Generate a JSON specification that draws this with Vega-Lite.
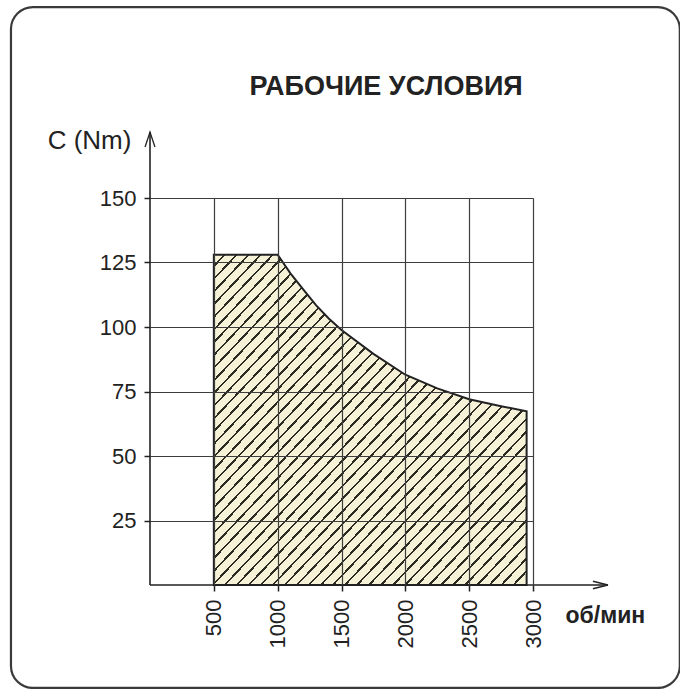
{
  "$schema": "https://vega.github.io/schema/vega-lite/v6.json",
  "width": 383,
  "height": 387,
  "autosize": {"type": "none"},
  "padding": {"left": 150, "top": 198, "right": 147, "bottom": 104},
  "background": "white",
  "config": {
    "view": {"stroke": null},
    "font": "Liberation Sans",
    "axis": {
      "zindex": 1,
      "grid": true,
      "gridColor": "#3d3d3d",
      "gridWidth": 1.2,
      "gridOpacity": 1,
      "domain": false,
      "tickColor": "#222222",
      "tickSize": 6,
      "tickWidth": 1.5,
      "labelFont": "Liberation Sans",
      "labelFontSize": 22,
      "labelColor": "#222222",
      "labelPadding": 8,
      "titleColor": "#222222",
      "titleFont": "Liberation Sans"
    }
  },
  "layer": [
    {
      "data": {"values": [{}]},
      "mark": {"type": "rect", "fill": null, "stroke": "#3a3a3a", "strokeWidth": 2.2, "cornerRadius": 22},
      "encoding": {
        "x": {"datum": -1089, "type": "quantitative", "scale": {"domain": [0, 3000], "nice": false, "zero": false}},
        "x2": {"datum": 4150},
        "y": {"datum": 224, "type": "quantitative", "scale": {"domain": [0, 150], "nice": false, "zero": false}},
        "y2": {"datum": -39.9}
      }
    },
    {
      "data": {"values": [{"title": "РАБОЧИЕ УСЛОВИЯ"}]},
      "mark": {"type": "text", "font": "Liberation Sans", "fontSize": 27, "fontWeight": "bold", "color": "#222222", "align": "center", "baseline": "alphabetic"},
      "encoding": {
        "x": {"datum": 1849, "type": "quantitative"},
        "y": {"datum": 189.9, "type": "quantitative"},
        "text": {"field": "title"}
      }
    },
    {
      "data": {
        "values": [
          {"rpm": 500, "torque": 128},
          {"rpm": 1000, "torque": 128},
          {"rpm": 1100, "torque": 120.8},
          {"rpm": 1200, "torque": 114.6},
          {"rpm": 1300, "torque": 108.5},
          {"rpm": 1400, "torque": 103.3},
          {"rpm": 1500, "torque": 98.8},
          {"rpm": 1750, "torque": 89.6},
          {"rpm": 2000, "torque": 81.5},
          {"rpm": 2250, "torque": 76.2},
          {"rpm": 2500, "torque": 72.0},
          {"rpm": 2750, "torque": 69.3},
          {"rpm": 2950, "torque": 67.3}
        ]
      },
      "mark": {
        "type": "area",
        "interpolate": "linear",
        "stroke": "#222222",
        "strokeWidth": 2,
        "strokeJoin": "miter",
        "fill": {
          "gradient": "linear",
          "x1": 0, "y1": 0, "x2": 1, "y2": 1,
          "stops": [
            {"offset": 0, "color": "#f6f2d8"}, {"offset": 0.0154, "color": "#f6f2d8"}, {"offset": 0.0154, "color": "#2b2b22"}, {"offset": 0.0192, "color": "#2b2b22"},
            {"offset": 0.0192, "color": "#f6f2d8"}, {"offset": 0.0346, "color": "#f6f2d8"}, {"offset": 0.0346, "color": "#2b2b22"}, {"offset": 0.0385, "color": "#2b2b22"},
            {"offset": 0.0385, "color": "#f6f2d8"}, {"offset": 0.0538, "color": "#f6f2d8"}, {"offset": 0.0538, "color": "#2b2b22"}, {"offset": 0.0577, "color": "#2b2b22"},
            {"offset": 0.0577, "color": "#f6f2d8"}, {"offset": 0.0731, "color": "#f6f2d8"}, {"offset": 0.0731, "color": "#2b2b22"}, {"offset": 0.0769, "color": "#2b2b22"},
            {"offset": 0.0769, "color": "#f6f2d8"}, {"offset": 0.0923, "color": "#f6f2d8"}, {"offset": 0.0923, "color": "#2b2b22"}, {"offset": 0.0962, "color": "#2b2b22"},
            {"offset": 0.0962, "color": "#f6f2d8"}, {"offset": 0.1115, "color": "#f6f2d8"}, {"offset": 0.1115, "color": "#2b2b22"}, {"offset": 0.1154, "color": "#2b2b22"},
            {"offset": 0.1154, "color": "#f6f2d8"}, {"offset": 0.1308, "color": "#f6f2d8"}, {"offset": 0.1308, "color": "#2b2b22"}, {"offset": 0.1346, "color": "#2b2b22"},
            {"offset": 0.1346, "color": "#f6f2d8"}, {"offset": 0.15, "color": "#f6f2d8"}, {"offset": 0.15, "color": "#2b2b22"}, {"offset": 0.1538, "color": "#2b2b22"},
            {"offset": 0.1538, "color": "#f6f2d8"}, {"offset": 0.1692, "color": "#f6f2d8"}, {"offset": 0.1692, "color": "#2b2b22"}, {"offset": 0.1731, "color": "#2b2b22"},
            {"offset": 0.1731, "color": "#f6f2d8"}, {"offset": 0.1885, "color": "#f6f2d8"}, {"offset": 0.1885, "color": "#2b2b22"}, {"offset": 0.1923, "color": "#2b2b22"},
            {"offset": 0.1923, "color": "#f6f2d8"}, {"offset": 0.2077, "color": "#f6f2d8"}, {"offset": 0.2077, "color": "#2b2b22"}, {"offset": 0.2115, "color": "#2b2b22"},
            {"offset": 0.2115, "color": "#f6f2d8"}, {"offset": 0.2269, "color": "#f6f2d8"}, {"offset": 0.2269, "color": "#2b2b22"}, {"offset": 0.2308, "color": "#2b2b22"},
            {"offset": 0.2308, "color": "#f6f2d8"}, {"offset": 0.2462, "color": "#f6f2d8"}, {"offset": 0.2462, "color": "#2b2b22"}, {"offset": 0.25, "color": "#2b2b22"},
            {"offset": 0.25, "color": "#f6f2d8"}, {"offset": 0.2654, "color": "#f6f2d8"}, {"offset": 0.2654, "color": "#2b2b22"}, {"offset": 0.2692, "color": "#2b2b22"},
            {"offset": 0.2692, "color": "#f6f2d8"}, {"offset": 0.2846, "color": "#f6f2d8"}, {"offset": 0.2846, "color": "#2b2b22"}, {"offset": 0.2885, "color": "#2b2b22"},
            {"offset": 0.2885, "color": "#f6f2d8"}, {"offset": 0.3038, "color": "#f6f2d8"}, {"offset": 0.3038, "color": "#2b2b22"}, {"offset": 0.3077, "color": "#2b2b22"},
            {"offset": 0.3077, "color": "#f6f2d8"}, {"offset": 0.3231, "color": "#f6f2d8"}, {"offset": 0.3231, "color": "#2b2b22"}, {"offset": 0.3269, "color": "#2b2b22"},
            {"offset": 0.3269, "color": "#f6f2d8"}, {"offset": 0.3423, "color": "#f6f2d8"}, {"offset": 0.3423, "color": "#2b2b22"}, {"offset": 0.3462, "color": "#2b2b22"},
            {"offset": 0.3462, "color": "#f6f2d8"}, {"offset": 0.3615, "color": "#f6f2d8"}, {"offset": 0.3615, "color": "#2b2b22"}, {"offset": 0.3654, "color": "#2b2b22"},
            {"offset": 0.3654, "color": "#f6f2d8"}, {"offset": 0.3808, "color": "#f6f2d8"}, {"offset": 0.3808, "color": "#2b2b22"}, {"offset": 0.3846, "color": "#2b2b22"},
            {"offset": 0.3846, "color": "#f6f2d8"}, {"offset": 0.4, "color": "#f6f2d8"}, {"offset": 0.4, "color": "#2b2b22"}, {"offset": 0.4038, "color": "#2b2b22"},
            {"offset": 0.4038, "color": "#f6f2d8"}, {"offset": 0.4192, "color": "#f6f2d8"}, {"offset": 0.4192, "color": "#2b2b22"}, {"offset": 0.4231, "color": "#2b2b22"},
            {"offset": 0.4231, "color": "#f6f2d8"}, {"offset": 0.4385, "color": "#f6f2d8"}, {"offset": 0.4385, "color": "#2b2b22"}, {"offset": 0.4423, "color": "#2b2b22"},
            {"offset": 0.4423, "color": "#f6f2d8"}, {"offset": 0.4577, "color": "#f6f2d8"}, {"offset": 0.4577, "color": "#2b2b22"}, {"offset": 0.4615, "color": "#2b2b22"},
            {"offset": 0.4615, "color": "#f6f2d8"}, {"offset": 0.4769, "color": "#f6f2d8"}, {"offset": 0.4769, "color": "#2b2b22"}, {"offset": 0.4808, "color": "#2b2b22"},
            {"offset": 0.4808, "color": "#f6f2d8"}, {"offset": 0.4962, "color": "#f6f2d8"}, {"offset": 0.4962, "color": "#2b2b22"}, {"offset": 0.5, "color": "#2b2b22"},
            {"offset": 0.5, "color": "#f6f2d8"}, {"offset": 0.5154, "color": "#f6f2d8"}, {"offset": 0.5154, "color": "#2b2b22"}, {"offset": 0.5192, "color": "#2b2b22"},
            {"offset": 0.5192, "color": "#f6f2d8"}, {"offset": 0.5346, "color": "#f6f2d8"}, {"offset": 0.5346, "color": "#2b2b22"}, {"offset": 0.5385, "color": "#2b2b22"},
            {"offset": 0.5385, "color": "#f6f2d8"}, {"offset": 0.5538, "color": "#f6f2d8"}, {"offset": 0.5538, "color": "#2b2b22"}, {"offset": 0.5577, "color": "#2b2b22"},
            {"offset": 0.5577, "color": "#f6f2d8"}, {"offset": 0.5731, "color": "#f6f2d8"}, {"offset": 0.5731, "color": "#2b2b22"}, {"offset": 0.5769, "color": "#2b2b22"},
            {"offset": 0.5769, "color": "#f6f2d8"}, {"offset": 0.5923, "color": "#f6f2d8"}, {"offset": 0.5923, "color": "#2b2b22"}, {"offset": 0.5962, "color": "#2b2b22"},
            {"offset": 0.5962, "color": "#f6f2d8"}, {"offset": 0.6115, "color": "#f6f2d8"}, {"offset": 0.6115, "color": "#2b2b22"}, {"offset": 0.6154, "color": "#2b2b22"},
            {"offset": 0.6154, "color": "#f6f2d8"}, {"offset": 0.6308, "color": "#f6f2d8"}, {"offset": 0.6308, "color": "#2b2b22"}, {"offset": 0.6346, "color": "#2b2b22"},
            {"offset": 0.6346, "color": "#f6f2d8"}, {"offset": 0.65, "color": "#f6f2d8"}, {"offset": 0.65, "color": "#2b2b22"}, {"offset": 0.6538, "color": "#2b2b22"},
            {"offset": 0.6538, "color": "#f6f2d8"}, {"offset": 0.6692, "color": "#f6f2d8"}, {"offset": 0.6692, "color": "#2b2b22"}, {"offset": 0.6731, "color": "#2b2b22"},
            {"offset": 0.6731, "color": "#f6f2d8"}, {"offset": 0.6885, "color": "#f6f2d8"}, {"offset": 0.6885, "color": "#2b2b22"}, {"offset": 0.6923, "color": "#2b2b22"},
            {"offset": 0.6923, "color": "#f6f2d8"}, {"offset": 0.7077, "color": "#f6f2d8"}, {"offset": 0.7077, "color": "#2b2b22"}, {"offset": 0.7115, "color": "#2b2b22"},
            {"offset": 0.7115, "color": "#f6f2d8"}, {"offset": 0.7269, "color": "#f6f2d8"}, {"offset": 0.7269, "color": "#2b2b22"}, {"offset": 0.7308, "color": "#2b2b22"},
            {"offset": 0.7308, "color": "#f6f2d8"}, {"offset": 0.7462, "color": "#f6f2d8"}, {"offset": 0.7462, "color": "#2b2b22"}, {"offset": 0.75, "color": "#2b2b22"},
            {"offset": 0.75, "color": "#f6f2d8"}, {"offset": 0.7654, "color": "#f6f2d8"}, {"offset": 0.7654, "color": "#2b2b22"}, {"offset": 0.7692, "color": "#2b2b22"},
            {"offset": 0.7692, "color": "#f6f2d8"}, {"offset": 0.7846, "color": "#f6f2d8"}, {"offset": 0.7846, "color": "#2b2b22"}, {"offset": 0.7885, "color": "#2b2b22"},
            {"offset": 0.7885, "color": "#f6f2d8"}, {"offset": 0.8038, "color": "#f6f2d8"}, {"offset": 0.8038, "color": "#2b2b22"}, {"offset": 0.8077, "color": "#2b2b22"},
            {"offset": 0.8077, "color": "#f6f2d8"}, {"offset": 0.8231, "color": "#f6f2d8"}, {"offset": 0.8231, "color": "#2b2b22"}, {"offset": 0.8269, "color": "#2b2b22"},
            {"offset": 0.8269, "color": "#f6f2d8"}, {"offset": 0.8423, "color": "#f6f2d8"}, {"offset": 0.8423, "color": "#2b2b22"}, {"offset": 0.8462, "color": "#2b2b22"},
            {"offset": 0.8462, "color": "#f6f2d8"}, {"offset": 0.8615, "color": "#f6f2d8"}, {"offset": 0.8615, "color": "#2b2b22"}, {"offset": 0.8654, "color": "#2b2b22"},
            {"offset": 0.8654, "color": "#f6f2d8"}, {"offset": 0.8808, "color": "#f6f2d8"}, {"offset": 0.8808, "color": "#2b2b22"}, {"offset": 0.8846, "color": "#2b2b22"},
            {"offset": 0.8846, "color": "#f6f2d8"}, {"offset": 0.9, "color": "#f6f2d8"}, {"offset": 0.9, "color": "#2b2b22"}, {"offset": 0.9038, "color": "#2b2b22"},
            {"offset": 0.9038, "color": "#f6f2d8"}, {"offset": 0.9192, "color": "#f6f2d8"}, {"offset": 0.9192, "color": "#2b2b22"}, {"offset": 0.9231, "color": "#2b2b22"},
            {"offset": 0.9231, "color": "#f6f2d8"}, {"offset": 0.9385, "color": "#f6f2d8"}, {"offset": 0.9385, "color": "#2b2b22"}, {"offset": 0.9423, "color": "#2b2b22"},
            {"offset": 0.9423, "color": "#f6f2d8"}, {"offset": 0.9577, "color": "#f6f2d8"}, {"offset": 0.9577, "color": "#2b2b22"}, {"offset": 0.9615, "color": "#2b2b22"},
            {"offset": 0.9615, "color": "#f6f2d8"}, {"offset": 0.9769, "color": "#f6f2d8"}, {"offset": 0.9769, "color": "#2b2b22"}, {"offset": 0.9808, "color": "#2b2b22"},
            {"offset": 0.9808, "color": "#f6f2d8"}, {"offset": 0.9962, "color": "#f6f2d8"}, {"offset": 0.9962, "color": "#2b2b22"}, {"offset": 1, "color": "#2b2b22"}
          ]
        }
      },
      "encoding": {
        "x": {
          "field": "rpm",
          "type": "quantitative",
          "scale": {"domain": [0, 3000], "nice": false, "zero": false},
          "axis": {
            "zindex": 1,
            "values": [500, 1000, 1500, 2000, 2500, 3000],
            "format": "d",
            "labelAngle": -90,
            "labelAlign": "right",
            "labelBaseline": "middle",
            "title": "об/мин",
            "titleAngle": 0,
            "titleAlign": "left",
            "titleBaseline": "alphabetic",
            "titleX": 415,
            "titleY": 37,
            "titleFontSize": 23,
            "titleFontWeight": "bold"
          }
        },
        "y": {
          "field": "torque",
          "type": "quantitative",
          "scale": {"domain": [0, 150], "nice": false, "zero": false},
          "axis": {
            "zindex": 1,
            "values": [25, 50, 75, 100, 125, 150],
            "format": "d",
            "title": "C (Nm)",
            "titleAngle": 0,
            "titleAlign": "center",
            "titleBaseline": "alphabetic",
            "titleX": -61,
            "titleY": -50,
            "titleFontSize": 26,
            "titleFontWeight": "normal"
          }
        }
      }
    },
    {
      "data": {"values": [{}]},
      "mark": {"type": "rule", "color": "#222222", "strokeWidth": 1.6},
      "encoding": {
        "x": {"datum": 0, "type": "quantitative"},
        "y": {"datum": 0, "type": "quantitative"},
        "y2": {"datum": 175.6}
      }
    },
    {
      "data": {"values": [{}]},
      "mark": {"type": "rule", "color": "#222222", "strokeWidth": 1.6},
      "encoding": {
        "x": {"datum": 0, "type": "quantitative"},
        "x2": {"datum": 3587},
        "y": {"datum": 0, "type": "quantitative"}
      }
    },
    {
      "data": {"values": [{}]},
      "mark": {"type": "point", "shape": "M-0.33,1 L0,0 L0.33,1", "filled": false, "stroke": "#222222", "strokeWidth": 1.3, "opacity": 1, "size": 900},
      "encoding": {
        "x": {"datum": 0, "type": "quantitative"},
        "y": {"datum": 175.6, "type": "quantitative"}
      }
    },
    {
      "data": {"values": [{}]},
      "mark": {"type": "point", "shape": "M-1,-0.25 L0,0 L-1,0.25", "filled": false, "stroke": "#222222", "strokeWidth": 1.3, "opacity": 1, "size": 900},
      "encoding": {
        "x": {"datum": 3587, "type": "quantitative"},
        "y": {"datum": 0, "type": "quantitative"}
      }
    }
  ]
}
